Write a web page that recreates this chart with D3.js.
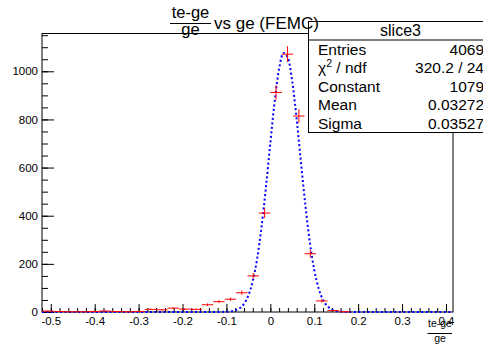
<!DOCTYPE html>
<html>
<head>
<meta charset="utf-8" />
<script src="https://d3js.org/d3.v7.min.js"></script>
<style>
  body { margin: 0; background: #fff; }
  text { font-family: "Liberation Sans", Arial, Helvetica, sans-serif; }
</style>
</head>
<body>
<div id="my_dataviz"></div>
<script>
// histogram bins (centers) and contents
var binCenters = [-0.507, -0.481, -0.455, -0.429, -0.403, -0.377, -0.351, -0.325, -0.299,
                  -0.273, -0.247, -0.221, -0.195, -0.169, -0.143, -0.117, -0.091, -0.065,
                  -0.039, -0.013, 0.013, 0.039, 0.065, 0.091, 0.117, 0.143, 0.169, 0.195,
                  0.221, 0.247, 0.273, 0.299, 0.325, 0.351, 0.377, 0.403];
var counts = [4, 2, 1, 1, 2, 4, 2, 1, 2,
              11, 9, 16, 12, 11, 30, 43, 53, 80,
              150, 411, 912, 1071, 814, 242, 46, 6, 1, 0,
              0, 0, 0, 0, 0, 0, 0, 0];
var binHalfWidth = 0.013;

// gaussian fit curve
var fitX = [-0.52, -0.12, -0.10, -0.09, -0.08, -0.07, -0.06, -0.05, -0.04, -0.03, -0.02, -0.01,
            0.00, 0.01, 0.02, 0.03, 0.04, 0.05, 0.06, 0.07, 0.08, 0.09, 0.10, 0.11, 0.12,
            0.13, 0.14, 0.15, 0.16, 0.18, 0.416];
var fitY = [0, 0, 1, 2.5, 6.5, 15.5, 34, 69, 129, 222, 353, 518,
            702, 877, 1011, 1076, 1056, 957, 800, 617, 440, 289, 175, 98, 50,
            24, 10.6, 4.3, 1.6, 0, 0];

var xTicks = [-0.5, -0.4, -0.3, -0.2, -0.1, 0, 0.1, 0.2, 0.3, 0.4];
var yTicks = [0, 200, 400, 600, 800, 1000];

var statsTitle = "slice3";
var statsNames = ["Entries", "\u03c7", "Constant", "Mean", "Sigma"];
var statsValues = ["4069", "320.2 / 24", "1079", "0.03272", "0.03527"];

var W = 483, H = 344;
var frame = {left: 42, right: 453, top: 33.5, bottom: 312};

var svg = d3.select("#my_dataviz")
  .append("svg")
    .attr("width", W)
    .attr("height", H);

var x = d3.scaleLinear()
  .domain([-0.52, 0.416])
  .range([frame.left, frame.right]);

var y = d3.scaleLinear()
  .domain([0, 1157])
  .range([frame.bottom, frame.top]);

// minor ticks
var xMinor = d3.range(-26, 21).map(function(i) { return i * 0.02; })
  .filter(function(v) { return v >= -0.52 && v <= 0.416; });
var yMinor = d3.range(0, 24).map(function(i) { return i * 50; });

svg.append("g")
  .attr("transform", "translate(0," + frame.bottom + ")")
  .call(d3.axisBottom(x).tickValues(xMinor).tickSize(-4).tickFormat(""))
  .call(function(g) { g.select(".domain").remove(); });

svg.append("g")
  .attr("transform", "translate(" + frame.left + ",0)")
  .call(d3.axisLeft(y).tickValues(yMinor).tickSize(-6).tickFormat(""))
  .call(function(g) { g.select(".domain").remove(); });

// major ticks + labels
var xAxis = svg.append("g")
  .attr("transform", "translate(0," + frame.bottom + ")")
  .call(d3.axisBottom(x).tickValues(xTicks).tickSize(-8).tickPadding(5)
    .tickFormat(function(d) { return String(Math.round(d * 10) / 10); }));
xAxis.select(".domain").remove();
xAxis.selectAll("text")
  .attr("font-size", "11.5px")
  .attr("font-family", "Liberation Sans, Arial, sans-serif")
  .attr("fill", "#000");

var yAxis = svg.append("g")
  .attr("transform", "translate(" + frame.left + ",0)")
  .call(d3.axisLeft(y).tickValues(yTicks).tickSize(-12).tickPadding(4)
    .tickFormat(function(d) { return String(d); }));
yAxis.select(".domain").remove();
yAxis.selectAll("text")
  .attr("font-size", "11.5px")
  .attr("font-family", "Liberation Sans, Arial, sans-serif")
  .attr("fill", "#000");

// frame
svg.append("rect")
  .attr("x", frame.left)
  .attr("y", frame.top)
  .attr("width", frame.right - frame.left)
  .attr("height", frame.bottom - frame.top)
  .attr("fill", "none")
  .attr("stroke", "#000")
  .attr("stroke-width", 1);

// fit curve
var fitPts = fitX.map(function(v, i) { return [v, fitY[i]]; });
svg.append("path")
  .datum(fitPts)
  .attr("d", d3.line()
    .x(function(d) { return x(d[0]); })
    .y(function(d) { return y(d[1]); })
    .curve(d3.curveMonotoneX))
  .attr("fill", "none")
  .attr("stroke", "#0000ff")
  .attr("stroke-width", 2)
  .attr("stroke-dasharray", "2,2.5");

// histogram error bars
var bins = binCenters.map(function(c, i) { return {c: c, n: counts[i]}; })
  .filter(function(d) { return d.n > 0; });

var err = svg.append("g").attr("stroke", "#ff0000").attr("stroke-width", 1);
err.selectAll(".hbar")
  .data(bins)
  .enter()
  .append("line")
    .attr("x1", function(d) { return x(d.c - binHalfWidth); })
    .attr("x2", function(d) { return x(d.c + binHalfWidth); })
    .attr("y1", function(d) { return y(d.n); })
    .attr("y2", function(d) { return y(d.n); });
err.selectAll(".vbar")
  .data(bins)
  .enter()
  .append("line")
    .attr("x1", function(d) { return x(d.c); })
    .attr("x2", function(d) { return x(d.c); })
    .attr("y1", function(d) { return y(d.n + Math.sqrt(d.n)); })
    .attr("y2", function(d) { return y(Math.max(0, d.n - Math.sqrt(d.n))); });

// stats box
var box = {x: 308.5, y: 21.5, w: 190, h: 111};
var rowH = box.h / 6;
svg.append("rect")
  .attr("x", box.x).attr("y", box.y)
  .attr("width", box.w).attr("height", box.h)
  .attr("fill", "#fff").attr("stroke", "#000");
svg.append("line")
  .attr("x1", box.x).attr("x2", box.x + box.w)
  .attr("y1", box.y + rowH).attr("y2", box.y + rowH)
  .attr("stroke", "#000");
svg.append("text")
  .attr("x", 400.5)
  .attr("y", box.y + rowH / 2 + 5.5)
  .attr("text-anchor", "middle")
  .attr("font-size", "16px")
  .text(statsTitle);

statsNames.forEach(function(name, i) {
  var cy = box.y + rowH * (i + 1.5) + 5.5;
  var t = svg.append("text")
    .attr("x", 318)
    .attr("y", cy)
    .attr("font-size", "15.5px");
  if (i === 1) {
    t.append("tspan").text(name);
    t.append("tspan").attr("dy", -6).attr("font-size", "10.5px").text("2");
    t.append("tspan").attr("dy", 6).text(" / ndf");
  } else {
    t.text(name);
  }
  svg.append("text")
    .attr("x", 484)
    .attr("y", cy)
    .attr("text-anchor", "end")
    .attr("font-size", "15.5px")
    .text(statsValues[i]);
});

// title: fraction + text
var title = svg.append("g").attr("font-size", "17px");
title.append("text").attr("x", 190.5).attr("y", 17.5).attr("font-size", "16.5px")
  .attr("text-anchor", "middle").text("te-ge");
title.append("line").attr("x1", 170).attr("x2", 211).attr("y1", 23.5).attr("y2", 23.5)
  .attr("stroke", "#000").attr("stroke-width", 1.2);
title.append("text").attr("x", 190.5).attr("y", 34.5).attr("font-size", "16.5px")
  .attr("text-anchor", "middle").text("ge");
title.append("text").attr("x", 214).attr("y", 29).text("vs ge (FEMC)");

// x axis title: fraction
var xt = svg.append("g").attr("font-size", "10.5px");
xt.append("text").attr("x", 440).attr("y", 327).attr("text-anchor", "middle").text("te-ge");
xt.append("line").attr("x1", 427.5).attr("x2", 452).attr("y1", 333.5).attr("y2", 333.5)
  .attr("stroke", "#000").attr("stroke-width", 1);
xt.append("text").attr("x", 440).attr("y", 342).attr("text-anchor", "middle").text("ge");
</script>
</body>
</html>
